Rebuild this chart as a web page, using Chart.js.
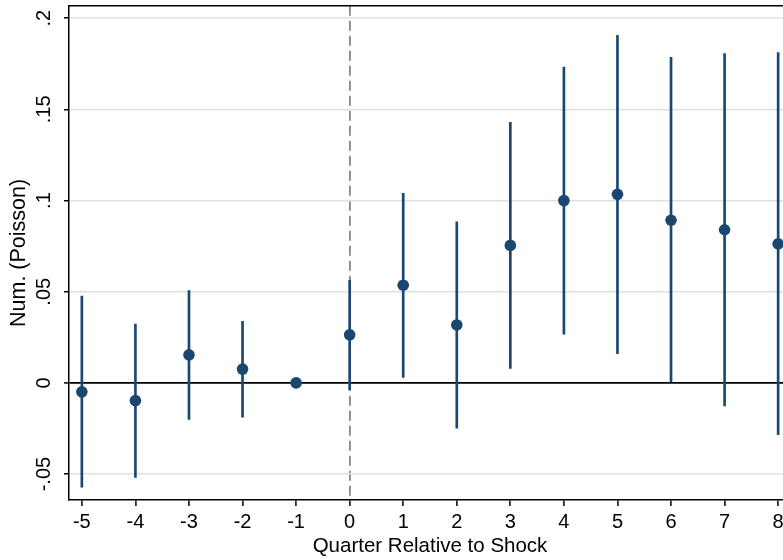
<!DOCTYPE html>
<html>
<head>
<meta charset="utf-8">
<script src="https://cdn.jsdelivr.net/npm/chart.js@4/dist/chart.umd.min.js"></script>
<style>
html,body{margin:0;padding:0;background:#fff;overflow:hidden;}
#wrap{width:800px;height:560px;}
</style>
</head>
<body>
<div id="wrap"><canvas id="c" width="800" height="560"></canvas></div>
<script>
const quarters = [-5, -4, -3, -2, -1, 0, 1, 2, 3, 4, 5, 6, 7, 8];
const estimates = [-0.0049, -0.0097, 0.0154, 0.0076, 0, 0.0264, 0.0536, 0.0318, 0.0754, 0.1000, 0.1034, 0.0892, 0.0840, 0.0763];
const ciLower = [-0.0571, -0.0518, -0.0200, -0.0188, 0, -0.0038, 0.0030, -0.0248, 0.0080, 0.0267, 0.0161, 0.0000, -0.0126, -0.0284];
const ciUpper = [0.0476, 0.0322, 0.0507, 0.0338, 0, 0.0562, 0.1040, 0.0883, 0.1429, 0.1732, 0.1906, 0.1785, 0.1806, 0.1812];
const yTickValues = [-0.05, 0, 0.05, 0.1, 0.15, 0.2];
const yTickLabels = ['-.05', '0', '.05', '.1', '.15', '.2'];
const xTitle = 'Quarter Relative to Shock';
const yTitle = 'Num. (Poisson)';

const navy = '#1a476f';
const FONT = 'Liberation Sans, Arial, Helvetica, sans-serif';

const topFrame = {
  id: 'topFrame',
  afterDraw(chart) {
    const {ctx, chartArea} = chart;
    ctx.save();
    ctx.strokeStyle = '#000';
    ctx.lineWidth = 1.5;
    ctx.beginPath();
    ctx.moveTo(chartArea.left, chartArea.top);
    ctx.lineTo(chartArea.right, chartArea.top);
    ctx.stroke();
    ctx.restore();
  }
};

new Chart(document.getElementById('c'), {
  type: 'scatter',
  data: {
    datasets: [
      {
        type: 'scatter',
        order: 0,
        data: quarters.map((q, i) => ({x: q, y: estimates[i]})),
        backgroundColor: navy,
        borderColor: navy,
        pointRadius: 5.8,
        pointBorderWidth: 0,
        pointHoverRadius: 5.8
      },
      {
        type: 'bar',
        order: 1,
        data: quarters.map((q, i) => ({x: q, y: [ciLower[i], ciUpper[i]]})),
        backgroundColor: navy,
        borderWidth: 0,
        barThickness: 2,
        grouped: false
      }
    ]
  },
  options: {
    responsive: false,
    animation: false,
    events: [],
    layout: {padding: {top: 3, right: 9, left: 0, bottom: 0}},
    plugins: {legend: {display: false}, tooltip: {enabled: false}},
    scales: {
      x: {
        type: 'linear',
        offset: false,
        min: -5.24,
        max: 8.24,
        afterBuildTicks(scale) { scale.ticks = quarters.map(v => ({value: v})); },
        afterFit(scale) { scale.height = 60; },
        ticks: {
          color: '#000',
          font: {family: FONT, size: 20},
          padding: 4,
          maxRotation: 0,
          autoSkip: false,
          callback: v => String(v)
        },
        grid: {
          offset: false,
          color: ctx => (ctx.tick && ctx.tick.value === 0) ? '#888888' : 'rgba(0,0,0,0)',
          lineWidth: 1.8,
          tickColor: '#000',
          tickLength: 6,
          tickWidth: 1.5
        },
        border: {display: true, color: '#000', width: 1.5, dash: [10, 5]},
        title: {
          display: true,
          text: xTitle,
          color: '#000',
          font: {family: FONT, size: 20.5},
          padding: {top: 0, bottom: 1}
        }
      },
      y: {
        type: 'linear',
        min: -0.0642,
        max: 0.2068,
        afterBuildTicks(scale) { scale.ticks = yTickValues.map(v => ({value: v})); },
        afterFit(scale) { scale.width = 69; scale.paddingTop = 0; scale.paddingBottom = 0; },
        ticks: {
          color: '#000',
          font: {family: FONT, size: 20},
          minRotation: 90,
          maxRotation: 90,
          crossAlign: 'center',
          padding: 2,
          autoSkip: false,
          callback: (v) => {
            const i = yTickValues.findIndex(t => Math.abs(t - v) < 1e-9);
            return i >= 0 ? yTickLabels[i] : '';
          }
        },
        grid: {
          color: ctx => (ctx.tick && Math.abs(ctx.tick.value) < 1e-9) ? '#000' : '#e0e0e0',
          lineWidth: ctx => (ctx.tick && Math.abs(ctx.tick.value) < 1e-9) ? 1.8 : 1.5,
          tickColor: '#000',
          tickLength: 5,
          tickWidth: 1.5
        },
        border: {display: true, color: '#000', width: 1.5},
        title: {
          display: true,
          text: yTitle,
          color: '#000',
          font: {family: FONT, size: 21.5},
          padding: {top: 6, bottom: 0}
        }
      }
    }
  },
  plugins: [topFrame]
});
</script>
</body>
</html>
